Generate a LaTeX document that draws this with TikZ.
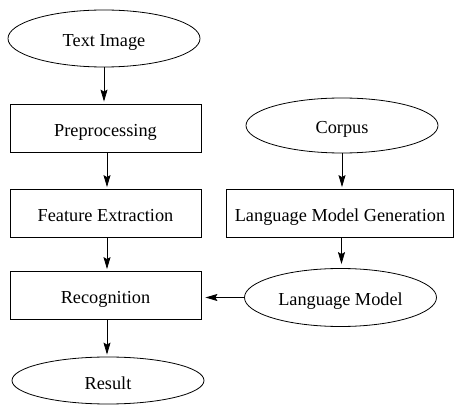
\documentclass[tikz,border=0pt]{standalone}
\usepackage{fontspec}
\setmainfont{Liberation Serif}
\usetikzlibrary{shapes.geometric,arrows.meta}
\begin{document}
\begin{tikzpicture}[x=1pt,y=-1pt,
  every node/.style={font=\fontsize{18.3}{22}\selectfont, inner sep=0pt, line width=0.8pt, text height=17pt, text depth=0pt},
  oval/.style={draw, ellipse, minimum width=192pt, minimum height=#1},
  oval/.default=57pt,
  box/.style={draw, rectangle, minimum width=191pt, minimum height=48pt},
  arr/.style={-{Stealth[length=12pt,width=7pt,inset=2pt]}, line width=0.8pt, shorten >=2pt}]
\useasboundingbox (0,0) rectangle (456,417);
\node[oval] (img) at (104,38.5) {Text Image};
\node[box] (pre) at (105.5,128) {Preprocessing};
\node[box] (fe) at (105.5,213.5) {Feature Extraction};
\node[box] (rec) at (105.5,295.5) {Recognition};
\node[oval=47pt] (res) at (108,380.5) {Result};
\node[oval=55pt] (cor) at (342,125.5) {Corpus};
\node[box, minimum width=227pt] (lmg) at (340,213.5) {Language Model Generation};
\node[oval=58pt] (lm) at (340.5,297.5) {Language Model};
\draw[arr] (img.south) -- (img.south |- pre.north);
\draw[arr] ([xshift=1.5pt]pre.south) -- ([xshift=1.5pt]pre.south |- fe.north);
\draw[arr] ([xshift=1.5pt]fe.south) -- ([xshift=1.5pt]fe.south |- rec.north);
\draw[arr] ([xshift=1.5pt]rec.south) -- ([xshift=1.5pt]rec.south |- res.north);
\draw[arr] (cor.south) -- (cor.south |- lmg.north);
\draw[arr, shorten >=4pt] ([xshift=1.5pt]lmg.south) -- ([xshift=1.5pt]lmg.south |- lm.north);
\draw[arr, shorten >=4pt] (lm.west) -- (lm.west -| rec.east);
\end{tikzpicture}
\end{document}
